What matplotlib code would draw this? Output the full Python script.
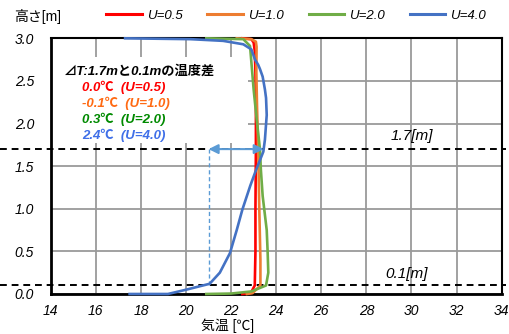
import matplotlib
matplotlib.use('Agg')
import matplotlib.pyplot as plt
from matplotlib.lines import Line2D
from matplotlib.patches import Rectangle

plt.rcParams['font.family'] = ['Liberation Sans', 'Noto Sans CJK JP', 'DejaVu Sans']

# profiles: air temperature [C] vs height [m]
t_u05 = [22.5, 22.87, 23.05, 23.08, 23.08, 23.1, 23.1, 23.08, 23.05, 23.0, 22.9, 22.5]
z_u05 = [0.0, 0.01, 0.1, 0.5, 1.0, 1.7, 2.2, 2.6, 2.85, 2.95, 2.99, 3.0]

t_u10 = [22.7, 22.95, 23.3, 23.3, 23.25, 23.2, 23.15, 23.12, 23.13, 23.1, 22.9, 22.25]
z_u10 = [0.0, 0.01, 0.1, 0.4, 1.0, 1.7, 2.2, 2.6, 2.9, 2.96, 2.99, 3.0]

t_u20 = [20.9, 22.0, 22.9, 23.55, 23.65, 23.62, 23.58, 23.4, 23.32, 23.28, 23.13, 23.0, 22.9, 22.84, 22.54, 20.9]
z_u20 = [0.0, 0.005, 0.03, 0.1, 0.25, 0.5, 0.75, 1.15, 1.46, 1.7, 2.06, 2.4, 2.72, 2.91, 2.99, 3.0]

t_u40 = [17.5, 19.2, 20.0, 20.6, 21.05, 21.5, 21.95, 22.25, 22.5, 22.7, 22.85, 23.1, 23.43, 23.5,
         23.58, 23.55, 23.5, 23.4, 23.28, 23.2, 23.06, 22.9, 22.54, 21.65, 20.2, 17.3]
z_u40 = [0.0, 0.0, 0.05, 0.09, 0.12, 0.25, 0.48, 0.75, 0.99, 1.15, 1.27, 1.45, 1.67, 1.81,
         2.1, 2.3, 2.4, 2.55, 2.64, 2.69, 2.75, 2.87, 2.93, 2.97, 2.99, 3.0]

labels = ['U=0.5', 'U=1.0', 'U=2.0', 'U=4.0']
colors = ['#FF0000', '#ED7D31', '#70AD47', '#4472C4']
dt_texts = ['0.0℃  (U=0.5)', '-0.1℃  (U=1.0)', '0.3℃  (U=2.0)', '2.4℃  (U=4.0)']
dt_colors = ['#FF0000', '#FF6A13', '#008A00', '#3F6FE8']
ref_heights = [1.7, 0.1]
arrow_t = [21.0, 23.45]

fig = plt.figure(figsize=(5.1, 3.34), dpi=100)
ax = fig.add_axes([0.0994, 0.1198, 0.8843, 0.7655])

profiles = [(t_u05, z_u05), (t_u10, z_u10), (t_u20, z_u20), (t_u40, z_u40)]
for (t, z), c in zip(profiles, colors):
    ax.plot(t, z, color=c, lw=1.9, solid_joinstyle='round', zorder=6, clip_on=False)

ax.set_xlim(14, 34)
ax.set_ylim(0, 3.0)
ax.set_xticks(range(14, 35, 2))
ax.set_yticks([0, 0.5, 1.0, 1.5, 2.0, 2.5, 3.0])
ax.set_yticklabels(['0.0', '0.5', '1.0', '1.5', '2.0', '2.5', '3.0'])
ax.grid(True, color='#9A9A9A', lw=1.3)
ax.set_axisbelow(True)
ax.tick_params(length=0, labelsize=10)
ax.tick_params(axis='x', pad=7)
ax.tick_params(axis='y', pad=12)
for lab in ax.get_xticklabels() + ax.get_yticklabels():
    lab.set_style('italic')
for side in ['left', 'bottom']:
    ax.spines[side].set_linewidth(2.0)
for side in ['top', 'right']:
    ax.spines[side].set_linewidth(1.5)
for s in ax.spines.values():
    s.set_color('black')
    s.set_zorder(5)

# white box behind the annotation text
ax.add_patch(Rectangle((14, 1.77), 8.75, 1.01, facecolor='white', edgecolor='none', zorder=2))

# reference heights
for h in ref_heights:
    ax.axhline(h, xmin=-0.113, xmax=1.01, color='black', lw=1.4, ls=(0, (3.5, 2.5)),
               clip_on=False, zorder=3)
ax.text(30, 1.85, '1.7[m]', ha='center', va='center', fontsize=11, style='italic')
ax.text(29.8, 0.235, '0.1[m]', ha='center', va='center', fontsize=11, style='italic')

# temperature difference for U=4.0
ax.plot([arrow_t[0], arrow_t[0]], [ref_heights[1], ref_heights[0]], color='#5B9BD5',
        lw=1.0, ls=(0, (3, 2)), zorder=3)
ax.annotate('', xy=(arrow_t[1], ref_heights[0]), xytext=(arrow_t[0], ref_heights[0]),
            arrowprops=dict(arrowstyle='<|-|>', color='#5B9BD5', lw=1.5,
                            mutation_scale=14, shrinkA=0, shrinkB=0), zorder=7)

ax.text(14.6, 2.61, '⊿T:1.7mと0.1mの温度差', ha='left', va='center', fontsize=9.5,
        fontweight='bold', style='italic', zorder=4)
for i, (s, c) in enumerate(zip(dt_texts, dt_colors)):
    ax.text(15.4, 2.42 - i * 0.187, s, ha='left', va='center', fontsize=9.5,
            fontweight='bold', style='italic', color=c, zorder=4)

handles = [Line2D([], [], color=c, lw=2.2) for c in colors]
leg = fig.legend(handles, labels, loc='center', bbox_to_anchor=(296 / 510, 1 - 16 / 334),
                 ncol=4, frameon=False, fontsize=9.5, handlelength=2.7,
                 handletextpad=0.35, columnspacing=1.9)
for t in leg.get_texts():
    t.set_style('italic')

fig.text(14 / 510, 1 - 16 / 334, '高さ[m]', ha='left', va='center', fontsize=10)
fig.text(228 / 510, 1 - 326 / 334, '気温 [℃]', ha='center', va='center', fontsize=10)

fig.savefig('out.png', dpi=100)
